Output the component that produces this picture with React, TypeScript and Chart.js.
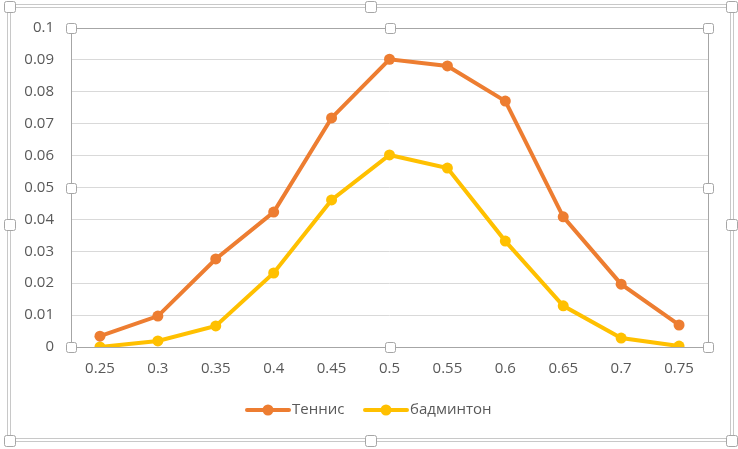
import React, { useEffect, useRef } from "react";
import { Chart, registerables } from "chart.js";

Chart.register(...registerables);

const categories = ["0.25", "0.3", "0.35", "0.4", "0.45", "0.5", "0.55", "0.6", "0.65", "0.7", "0.75"];
const tennis = [0.0034, 0.0097, 0.0276, 0.0423, 0.0718, 0.0902, 0.0881, 0.0771, 0.0408, 0.0197, 0.0069];
const badminton = [0.0, 0.0019, 0.0066, 0.0232, 0.0461, 0.0602, 0.0561, 0.0332, 0.0129, 0.0028, 0.0003];
const yTickLabels = ["0", "0.01", "0.02", "0.03", "0.04", "0.05", "0.06", "0.07", "0.08", "0.09", "0.1"];
const seriesNames = ["Теннис", "бадминтон"];
const seriesColors = ["#ED7D31", "#FFC000"];

const FONT = "'Open Sans', 'DejaVu Sans', sans-serif";
const TEXT = "#595959";

function handle(ctx: CanvasRenderingContext2D, x: number, y: number, s: number) {
  ctx.save();
  ctx.fillStyle = "#ffffff";
  ctx.strokeStyle = "#a6a6a6";
  ctx.lineWidth = 1;
  const h = s / 2;
  ctx.beginPath();
  if ((ctx as any).roundRect) (ctx as any).roundRect(Math.round(x - h) + 0.5, Math.round(y - h) + 0.5, s, s, 2);
  else ctx.rect(Math.round(x - h) + 0.5, Math.round(y - h) + 0.5, s, s);
  ctx.fill();
  ctx.stroke();
  ctx.restore();
}

const decorPlugin = {
  id: "decor",
  beforeDraw(chart: any) {
    const ctx = chart.ctx as CanvasRenderingContext2D;
    ctx.save();
    ctx.fillStyle = "#ffffff";
    ctx.fillRect(0, 0, chart.width, chart.height);
    ctx.strokeStyle = "#c8c8c8";
    ctx.lineWidth = 1;
    ctx.strokeRect(7.5, 4.5, 726, 437);
    ctx.strokeRect(10.5, 7.5, 720, 431);
    ctx.restore();
  },
  afterDraw(chart: any) {
    const ctx = chart.ctx as CanvasRenderingContext2D;
    const a = chart.chartArea;
    ctx.save();
    ctx.strokeStyle = "#a6a6a6";
    ctx.lineWidth = 1;
    ctx.strokeRect(Math.round(a.left) + 0.5, Math.round(a.top) + 0.5, Math.round(a.right - a.left), Math.round(a.bottom - a.top));
    const mx = (a.left + a.right) / 2;
    const my = (a.top + a.bottom) / 2;
    [[a.left, a.top], [mx, a.top], [a.right, a.top], [a.left, my], [a.right, my], [a.left, a.bottom], [mx, a.bottom], [a.right, a.bottom]].forEach(
      ([x, y]) => handle(ctx, x, y, 10)
    );
    [[9, 6], [370, 6], [731, 6], [9, 224], [731, 224], [9, 440], [370, 440], [731, 440]].forEach(([x, y]) => handle(ctx, x, y, 11));

    const ly = 410;
    const entries = [
      { x0: 247, text: seriesNames[0], color: seriesColors[0] },
      { x0: 365, text: seriesNames[1], color: seriesColors[1] },
    ];
    ctx.font = `15px ${FONT}`;
    ctx.textBaseline = "middle";
    ctx.textAlign = "left";
    entries.forEach((e) => {
      ctx.strokeStyle = e.color;
      ctx.lineWidth = 4;
      ctx.lineCap = "round";
      ctx.beginPath();
      ctx.moveTo(e.x0, ly);
      ctx.lineTo(e.x0 + 42, ly);
      ctx.stroke();
      ctx.fillStyle = e.color;
      ctx.beginPath();
      ctx.arc(e.x0 + 21, ly, 5.5, 0, Math.PI * 2);
      ctx.fill();
      ctx.fillStyle = TEXT;
      ctx.fillText(e.text, e.x0 + 45, ly);
    });
    ctx.restore();
  },
};

export default function App() {
  const ref = useRef<HTMLCanvasElement>(null);
  useEffect(() => {
    document.body.style.margin = "0";
    const chart = new Chart(ref.current!, {
      type: "line",
      data: {
        labels: categories,
        datasets: [
          {
            label: seriesNames[0],
            data: tennis,
            borderColor: seriesColors[0],
            backgroundColor: seriesColors[0],
            borderWidth: 4,
            pointRadius: 5.5,
            pointBorderWidth: 0,
            tension: 0,
          },
          {
            label: seriesNames[1],
            data: badminton,
            borderColor: seriesColors[1],
            backgroundColor: seriesColors[1],
            borderWidth: 4,
            pointRadius: 5.5,
            pointBorderWidth: 0,
            tension: 0,
          },
        ],
      },
      options: {
        animation: false,
        responsive: false,
        devicePixelRatio: 1,
        layout: { padding: { left: 0, top: 28, right: 30, bottom: 0 } },
        plugins: { legend: { display: false }, tooltip: { enabled: false } },
        scales: {
          x: {
            type: "category",
            offset: true,
            grid: { display: false, drawTicks: false },
            border: { display: false },
            ticks: { color: TEXT, font: { family: FONT, size: 15 }, padding: 13, maxRotation: 0, autoSkip: false },
            afterFit: (s: any) => {
              s.height = 102;
            },
          },
          y: {
            min: 0,
            max: 0.1,
            grid: { color: "#d9d9d9", lineWidth: 1, drawTicks: false },
            border: { display: false },
            ticks: {
              stepSize: 0.01,
              color: TEXT,
              font: { family: FONT, size: 15 },
              padding: 17,
              callback: (_v: any, i: number) => yTickLabels[i],
            },
            afterFit: (s: any) => {
              s.width = 71;
            },
          },
        },
      },
      plugins: [decorPlugin],
    } as any);
    return () => chart.destroy();
  }, []);
  return (
    <div style={{ position: "absolute", left: 0, top: 0, width: 738, height: 449 }}>
      <canvas ref={ref} width={738} height={449} style={{ width: 738, height: 449, display: "block" }} />
    </div>
  );
}
